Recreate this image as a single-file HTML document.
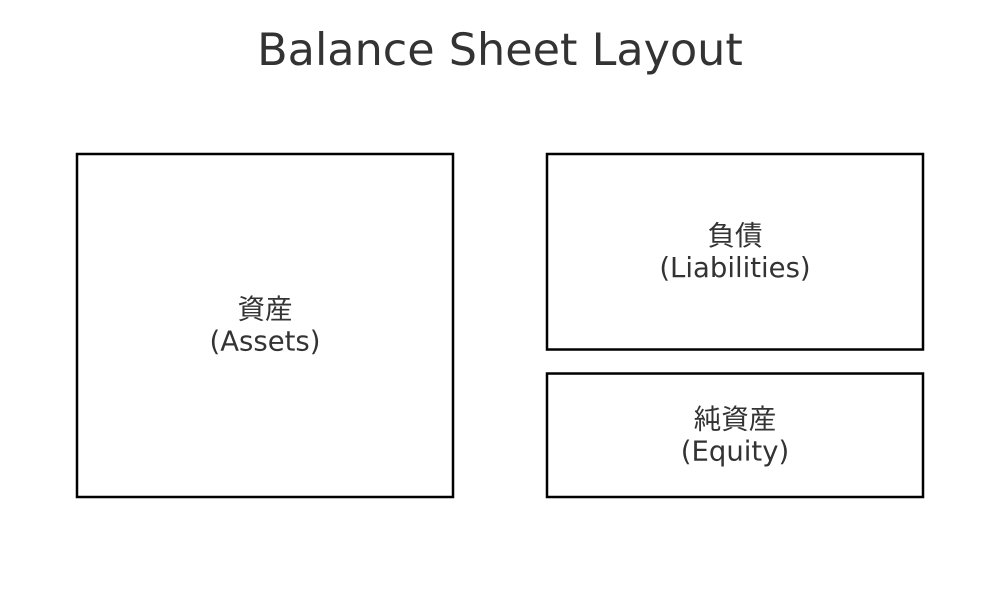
<!DOCTYPE html>
<html><head><meta charset="utf-8"><style>
html,body{margin:0;padding:0;background:#fff;}
svg{display:block;font-family:"DejaVu Sans","Liberation Sans","Noto Sans CJK JP",sans-serif;}
</style></head><body>
<svg id="chart" width="1000" height="600" viewBox="0 0 1000 600">
<text x="500" y="65" text-anchor="middle" font-size="44.5" fill="#333">Balance Sheet Layout</text>
</svg>
<script>
const names = ['資産', '負債', '純資産'];
const englishNames = ['(Assets)', '(Liabilities)', '(Equity)'];
const colIndex = [0, 1, 1];
const yStart = [0, 0, 0.64];
const yEnd = [1, 0.57, 1];
const svg = document.getElementById('chart');
const NS = 'http://www.w3.org/2000/svg';
const colX = c => 77 + c * 470;
const colW = 376;
const yPos = v => 154 + v * 343;
const keys = ['assets', 'liabilities', 'equity'];
for (let i = 0; i < names.length; i++) {
  const x = colX(colIndex[i]), y0 = yPos(yStart[i]), y1 = yPos(yEnd[i]);
  const r = document.createElementNS(NS, 'rect');
  
  
  r.setAttribute('x', x); r.setAttribute('y', y0);
  r.setAttribute('width', colW); r.setAttribute('height', y1 - y0);
  r.setAttribute('fill', '#fff'); r.setAttribute('stroke', '#000'); r.setAttribute('stroke-width', '2.5');
  svg.appendChild(r);
  const cx = x + colW / 2, cy = (y0 + y1) / 2;
  const t1 = document.createElementNS(NS, 'text');
  
  
  t1.setAttribute('x', cx); t1.setAttribute('y', cy - 7);
  t1.setAttribute('text-anchor', 'middle'); t1.setAttribute('font-size', '27.5'); t1.setAttribute('fill', '#333');
  t1.textContent = names[i];
  svg.appendChild(t1);
  const t2 = document.createElementNS(NS, 'text');
  
  
  t2.setAttribute('x', cx); t2.setAttribute('y', cy + 25);
  t2.setAttribute('text-anchor', 'middle'); t2.setAttribute('font-size', '27.5'); t2.setAttribute('fill', '#333');
  t2.textContent = englishNames[i];
  svg.appendChild(t2);
}
</script>
</body></html>
